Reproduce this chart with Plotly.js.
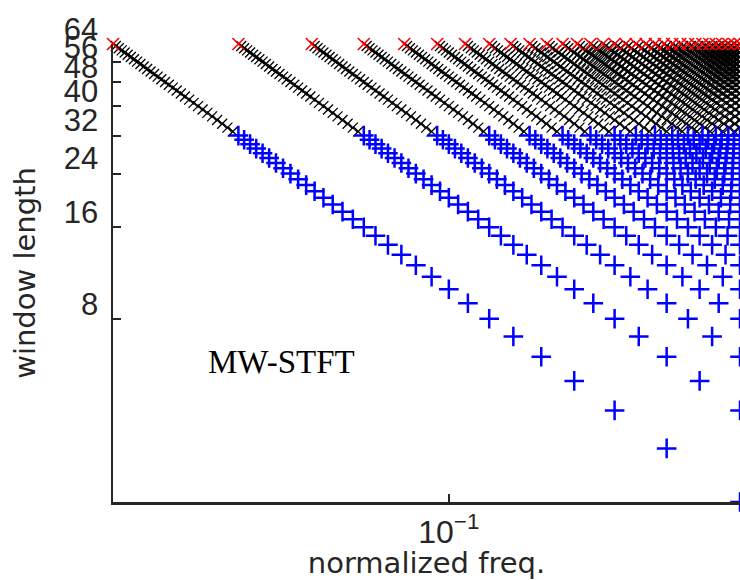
<!DOCTYPE html>
<html>
<head>
<meta charset="utf-8">
<script src="https://cdn.plot.ly/plotly-3.0.1.min.js"></script>
<style>html,body{margin:0;padding:0;background:#fff;overflow:hidden}#chart{width:740px;height:580px}</style>
</head>
<body>
<div id="chart"></div>
<script>
// Window lengths of each group (frequency bins k/N, k = 1..N/2, are plotted per window)
const redWindowLengths = [64];
const blackWindowLengths = [33,34,35,36,37,38,39,40,41,42,43,44,45,46,47,48,49,50,51,52,53,54,55,56,57,58,59,60,61,62,63];
const blueWindowLengths = [2,3,4,5,6,7,8,9,10,11,12,13,14,15,16,17,18,19,20,21,22,23,24,25,26,27,28,29,30,31,32];
const yTickValues = [8,16,24,32,40,48,56,64];
const yTickLabels = ["8","16","24","32","40","48","56","64"];
const xTickValues = [0.1];
const xTickLabels = ["10<sup>\u22121</sup>"];
const annotationText = "MW-STFT";
const xTitle = "normalized freq.";
const yTitle = "window length";

function binsOf(lengths) {
  const xs = [], ys = [];
  lengths.forEach(N => {
    for (let k = 1; k <= Math.floor(N / 2); k++) { xs.push(k / N); ys.push(N); }
  });
  return {x: xs, y: ys};
}

const b = binsOf(blackWindowLengths);
const u = binsOf(blueWindowLengths);
const r = binsOf(redWindowLengths);

const eps = 1e-7;
const axisColor = '#262626';
const traces = [
  {x: b.x, y: b.y, type: 'scatter', mode: 'markers', cliponaxis: false, hoverinfo: 'none',
   marker: {symbol: 'x-thin', size: 10, color: '#000', line: {color: '#000', width: 1.3}}},
  {x: u.x, y: u.y, type: 'scatter', mode: 'markers', cliponaxis: false, hoverinfo: 'none',
   marker: {symbol: 'cross-thin', size: 14, color: '#0000ff', line: {color: '#0000ff', width: 2.5}}},
  {x: r.x, y: r.y, type: 'scatter', mode: 'markers', cliponaxis: false, hoverinfo: 'none',
   marker: {symbol: 'x-thin', size: 12, color: '#ff0000', line: {color: '#ff0000', width: 1.6}}}
];

const layout = {
  width: 740, height: 580,
  margin: {l: 113, r: 0, t: 44, b: 78},
  paper_bgcolor: '#fff', plot_bgcolor: '#fff',
  showlegend: false,
  xaxis: {
    type: 'log', range: [Math.log10(1/64) - eps, Math.log10(0.5) + eps],
    showgrid: false, zeroline: false, showline: true, linecolor: axisColor, linewidth: 2.5,
    ticks: 'inside', ticklen: 8, tickwidth: 2, tickcolor: axisColor,
    tickvals: xTickValues, ticktext: xTickLabels, ticklabelstandoff: 0,
    tickfont: {family: 'Liberation Sans, Arial, sans-serif', size: 32, color: axisColor},
    title: {text: xTitle, standoff: 20, font: {family: 'DejaVu Sans, sans-serif', size: 29, color: axisColor}}
  },
  yaxis: {
    type: 'log', range: [Math.log10(2) - eps, Math.log10(64) + eps],
    showgrid: false, zeroline: false, showline: true, linecolor: axisColor, linewidth: 2.5,
    ticks: 'inside', ticklen: 8, tickwidth: 2, tickcolor: axisColor,
    tickvals: yTickValues, ticktext: yTickLabels, ticklabelshift: -15, ticklabelstandoff: 6,
    tickfont: {family: 'Liberation Sans, Arial, sans-serif', size: 31, color: axisColor},
    title: {text: yTitle, standoff: 20, font: {family: 'DejaVu Sans, sans-serif', size: 29, color: axisColor}}
  },
  annotations: [{
    text: annotationText, xref: 'paper', yref: 'paper', x: 0.268, y: 0.306,
    xanchor: 'center', yanchor: 'middle', showarrow: false,
    font: {family: 'Liberation Serif, Times New Roman, serif', size: 33, color: '#000'}
  }]
};

Plotly.newPlot('chart', traces, layout, {staticPlot: true, displayModeBar: false});
</script>
</body>
</html>
